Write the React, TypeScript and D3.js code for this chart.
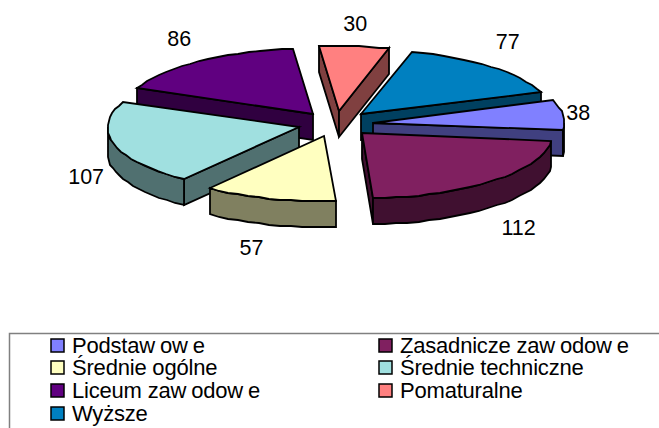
import React from "react"
import * as d3 from "d3"

const categories = ["Podstawowe", "Zasadnicze zawodowe", "Średnie ogólne", "Średnie techniczne", "Liceum zawodowe", "Pomaturalne", "Wyższe"]
const values = [38, 112, 57, 107, 86, 30, 77]
const topColors = ["#8080ff", "#802060", "#ffffc0", "#a0e0e0", "#600080", "#ff8080", "#0080c0"]
const sideColors = ["#404080", "#401030", "#808060", "#507070", "#300040", "#804040", "#004060"]
// label nudges away from the exploded rim, in px
const labelNudgeX = [15, 26, -18, -28, -20, 1, 17]
const labelNudgeY = [-3, 46, 49, 32, -23, -23, -25]

const width = 659
const height = 428
const cx = 335.5
const cy = 124
const rx = 191
const ry = 65
const depth = 26
const explode = 0.2
const FONT = "'Liberation Sans', Arial, sans-serif"

// d3 angles run clockwise from north, the first slice starts 20deg above east
const rad = (d: number) => (d * Math.PI) / 180
const pie = d3.pie<number>().sort(null).startAngle(rad(70)).endAngle(rad(430))
const arcs = pie(values)

const px = d3.scaleLinear().domain([-1, 1]).range([-rx, rx])
const py = d3.scaleLinear().domain([-1, 1]).range([-ry, ry])

// screen angle: 0 = east, clockwise
const screen = (a: number) => a - Math.PI / 2
const rim = (a: number, ox: number, oy: number, dz = 0): [number, number] => [
  Math.round(ox + px(Math.cos(screen(a)))),
  Math.round(oy + py(Math.sin(screen(a))) + dz),
]
const line = d3.line()
const poly = (pts: [number, number][]) => line(pts) + "Z"

const slices = arcs.map((d, i) => {
  const mid = (d.startAngle + d.endAngle) / 2
  const ox = cx + explode * px(Math.cos(screen(mid)))
  const oy = cy + explode * py(Math.sin(screen(mid)))
  return { d, i, mid, ox, oy }
})
// back to front
const drawOrder = slices.slice().sort((a, b) => Math.sin(screen(a.mid)) - Math.sin(screen(b.mid)))

const steps = (a0: number, a1: number) => {
  const n = Math.max(2, Math.ceil((a1 - a0) / rad(3.5)))
  return d3.range(n + 1).map((k) => a0 + ((a1 - a0) * k) / n)
}

const Slice = ({ s }: { s: (typeof slices)[number] }) => {
  const { d, i, ox, oy } = s
  const a0 = d.startAngle
  const a1 = d.endAngle
  const apex: [number, number] = [Math.round(ox), Math.round(oy)]
  const apexLow: [number, number] = [apex[0], apex[1] + depth]
  const walls: string[] = []
  // radial walls only when they face the viewer
  if (Math.sin(screen(a0) - Math.PI / 2) > 0)
    walls.push(poly([apex, rim(a0, ox, oy), rim(a0, ox, oy, depth), apexLow]))
  if (Math.sin(screen(a1) + Math.PI / 2) > 0)
    walls.push(poly([apex, rim(a1, ox, oy), rim(a1, ox, oy, depth), apexLow]))
  // outer wall: the part of the rim on the near side, east to west
  ;[0, 2 * Math.PI].forEach((shift) => {
    const from = Math.max(screen(a0), shift)
    const to = Math.min(screen(a1), shift + Math.PI)
    if (to > from) {
      const ang = steps(from + Math.PI / 2, to + Math.PI / 2)
      const topEdge = ang.map((a) => rim(a, ox, oy))
      const lowEdge = ang.map((a) => rim(a, ox, oy, depth)).reverse()
      walls.push(poly([...topEdge, ...lowEdge]))
    }
  })
  const top = poly([apex, ...steps(a0, a1).map((a) => rim(a, ox, oy))])
  return (
    <g stroke="#000" strokeWidth={1.8} strokeLinejoin="miter">
      {walls.map((w, k) => (
        <path key={k} d={w} fill={sideColors[i]} />
      ))}
      <path d={top} fill={topColors[i]} />
    </g>
  )
}

const legendCols = [51, 379]
const legendRows = [345, 367, 390, 413]

// the source renders a gap after each "w", the text itself has none
const LegendLabel = ({ text, x, y }: { text: string; x: number; y: number }) => {
  const parts = text.split(/(?<=w)/)
  return (
    <text x={x} y={y} dy="0.36em" fontSize={22} letterSpacing={-0.2} fontFamily={FONT} fill="#000">
      {parts.map((p, k) => (
        <tspan key={k} dx={k ? 5 : 0}>{p}</tspan>
      ))}
    </text>
  )
}

export default function App() {
  return (
    <svg width={width} height={height} style={{ position: "absolute", left: 0, top: 0 }}>
      <rect width={width} height={height} fill="#fff" />
      {drawOrder.map((s) => (
        <Slice key={s.i} s={s} />
      ))}
      {slices.map((s) => (
        <text
          key={s.i}
          x={cx + (1 + explode) * px(Math.cos(screen(s.mid))) + labelNudgeX[s.i]}
          y={cy + (1 + explode) * py(Math.sin(screen(s.mid))) + labelNudgeY[s.i]}
          dy="0.36em"
          textAnchor="middle"
          fontSize={21.5}
          fontFamily={FONT}
          fill="#000"
        >
          {values[s.i]}
        </text>
      ))}
      <rect x={9.5} y={333.5} width={width} height={height} fill="none" stroke="#808080" strokeWidth={1.5} />
      {categories.map((c, i) => {
        const col = legendCols[i % 2]
        const row = legendRows[Math.floor(i / 2)]
        return (
          <g key={c}>
            <rect x={col} y={row - 6} width={13} height={13} fill={topColors[i]} stroke="#000" strokeWidth={1.5} />
            <LegendLabel text={c} x={col + 21} y={row} />
          </g>
        )
      })}
    </svg>
  )
}
